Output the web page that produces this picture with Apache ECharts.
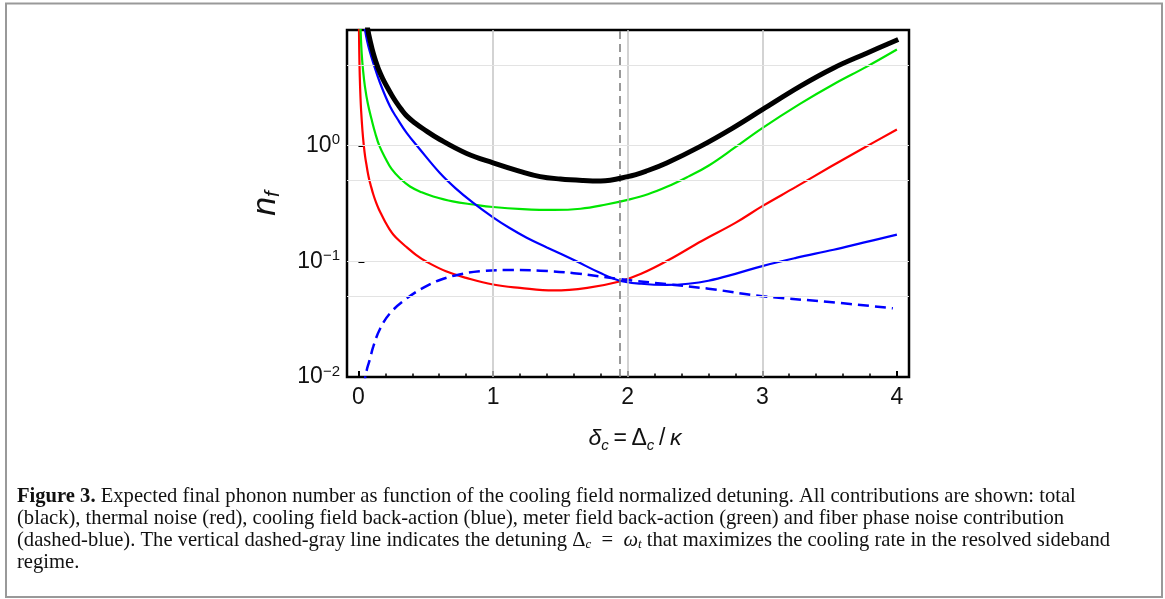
<!DOCTYPE html>
<html lang="en">
<head>
<meta charset="UTF-8">
<title>Figure 3</title>
<script src="https://cdn.jsdelivr.net/npm/echarts@6.0.0/dist/echarts.min.js"></script>
<style>
  html, body { margin: 0; padding: 0; background: #fff; }
  #chart { width: 1165px; height: 599px; }
</style>
</head>
<body>
<div id="chart"></div>
<script>
// values (x = detuning, y = n_f, log scale)
var redX   = [0.004, 0.006, 0.01, 0.015, 0.02, 0.03, 0.04, 0.05, 0.06, 0.07, 0.08, 0.09, 0.11, 0.13, 0.15, 0.17, 0.2, 0.23, 0.26, 0.3, 0.36, 0.43, 0.5, 0.65, 0.8, 1.0, 1.2, 1.45, 1.7, 1.94, 2.1, 2.3, 2.55, 2.8, 3.0, 3.25, 3.5, 3.75, 4.0];
var redY   = [10.5, 6.6, 3.95, 2.65, 2.0, 1.34, 1.0, 0.8, 0.68, 0.58, 0.51, 0.46, 0.38, 0.325, 0.285, 0.255, 0.218, 0.19, 0.17, 0.152, 0.132, 0.113, 0.1, 0.082, 0.072, 0.063, 0.059, 0.056, 0.059, 0.067, 0.078, 0.102, 0.15, 0.215, 0.30, 0.44, 0.65, 0.95, 1.38];

var greenX = [0.012, 0.016, 0.024, 0.035, 0.048, 0.07, 0.098, 0.125, 0.155, 0.2, 0.246, 0.31, 0.383, 0.47, 0.556, 0.7, 0.853, 1.0, 1.22, 1.45, 1.65, 1.84, 2.0, 2.15, 2.3, 2.45, 2.6, 2.8, 3.0, 3.28, 3.53, 3.78, 4.0];
var greenY = [13, 10, 6.3, 4.4, 3.26, 2.3, 1.68, 1.28, 1.0, 0.78, 0.63, 0.52, 0.444, 0.395, 0.364, 0.33, 0.31, 0.295, 0.283, 0.278, 0.285, 0.31, 0.34, 0.38, 0.445, 0.54, 0.67, 0.97, 1.42, 2.3, 3.4, 4.85, 6.78];

var blueX  = [0.045, 0.049, 0.065, 0.08, 0.11, 0.16, 0.234, 0.29, 0.358, 0.45, 0.605, 0.72, 0.853, 1.0, 1.12, 1.25, 1.4, 1.62, 1.79, 1.94, 2.1, 2.29, 2.45, 2.6, 2.8, 3.0, 3.25, 3.53, 3.75, 4.0];
var blueY  = [11, 10, 8.0, 6.8, 5.2, 3.5, 2.19, 1.7, 1.29, 0.95, 0.58, 0.43, 0.32, 0.24, 0.195, 0.16, 0.132, 0.1, 0.08, 0.068, 0.064, 0.0625, 0.064, 0.068, 0.078, 0.091, 0.107, 0.126, 0.145, 0.17];

var dashX  = [0.03, 0.048, 0.065, 0.085, 0.11, 0.16, 0.234, 0.358, 0.48, 0.605, 0.75, 0.9, 1.1, 1.35, 1.6, 1.94, 2.29, 2.6, 3.0, 3.5, 3.97];
var dashY  = [0.0058, 0.0095, 0.0119, 0.0142, 0.0183, 0.026, 0.0355, 0.0477, 0.059, 0.069, 0.077, 0.082, 0.0841, 0.083, 0.079, 0.0703, 0.0635, 0.058, 0.05, 0.0445, 0.0393];

var blackX = [0.06, 0.07, 0.09, 0.11, 0.13, 0.15, 0.18, 0.21, 0.25, 0.28, 0.32, 0.36, 0.42, 0.48, 0.605, 0.8, 1.0, 1.2, 1.35, 1.5, 1.67, 1.8, 2.0, 2.15, 2.29, 2.54, 2.78, 3.0, 3.28, 3.53, 3.78, 4.01];
var blackY = [12.5, 10, 7.8, 6.3, 5.3, 4.55, 3.8, 3.26, 2.7, 2.38, 2.05, 1.8, 1.57, 1.4, 1.13, 0.86, 0.71, 0.6, 0.54, 0.515, 0.50, 0.495, 0.54, 0.61, 0.708, 0.986, 1.42, 2.05, 3.26, 4.70, 6.33, 8.29];

var xTicks = [0, 1, 2, 3, 4];
var xMinorTicks = [0.2, 0.4, 0.6, 0.8, 1.2, 1.4, 1.6, 1.8, 2.2, 2.4, 2.6, 2.8, 3.2, 3.4, 3.6, 3.8];
var gridX = [1, 2, 3];
var gridY = [5, 1, 0.5, 0.1, 0.05];
var detuning = 1.94;   // Δc = ωt

var captionLines = [
  '{b|Figure 3.} Expected final phonon number as function of the cooling field normalized detuning. All contributions are shown: total',
  '(black), thermal noise (red), cooling field back-action (blue), meter field back-action (green) and fiber phase noise contribution',
  '(dashed-blue). The vertical dashed-gray line indicates the detuning \u0394{sub|c}\u2002=\u2002{i|\u03c9}{sub|t} that maximizes the cooling rate in the resolved sideband',
  'regime.'
];

function pairs(xs, ys) {
  return xs.map(function (x, i) { return [x, ys[i]]; });
}

var sans = '"Liberation Sans", Arial, sans-serif';
var serif = '"Liberation Serif", "Times New Roman", serif';

var chart = echarts.init(document.getElementById('chart'), null, { renderer: 'canvas' });

function curve(name, xs, ys, color, width, dash, z) {
  return {
    name: name, type: 'line', data: pairs(xs, ys), showSymbol: false,
    smooth: 0.4, clip: true, z: z,
    lineStyle: { color: color, width: width, type: dash || 'solid' }
  };
}

var captionFont = 20.6;
var captionTop = 497;
var captionStep = 21.7;

var option = {
  animation: false,
  grid: {
    left: 347, right: 256, top: 30, bottom: 222,
    show: true, borderColor: '#000', borderWidth: 2.5, backgroundColor: 'transparent'
  },
  xAxis: [{
    type: 'value', min: -0.085, max: 4.09,
    axisLine: { show: false },
    splitLine: { show: false },
    axisTick: { show: true, inside: true, length: 6, customValues: xTicks, lineStyle: { color: '#000', width: 2 } },
    axisLabel: { customValues: xTicks, fontSize: 23, fontFamily: sans, color: '#111', margin: 9 },
    name: '{i|\u03b4}{s|c}{n|\u2009=\u2009\u0394}{s|c}{n|\u2009/\u2009}{i|\u03ba}',
    nameLocation: 'middle', nameGap: 48,
    nameTextStyle: {
      padding: [0, 0, 0, 14],
      rich: {
        i: { fontSize: 23, fontStyle: 'italic', fontFamily: sans, color: '#111', lineHeight: 28 },
        n: { fontSize: 23, fontFamily: sans, color: '#111', lineHeight: 28 },
        s: { fontSize: 15, fontStyle: 'italic', fontFamily: sans, color: '#111', verticalAlign: 'bottom', lineHeight: 15 }
      }
    }
  }, {
    type: 'value', min: -0.085, max: 4.09, position: 'bottom',
    axisLine: { show: false },
    splitLine: { show: false },
    axisTick: { show: true, inside: true, length: 3.5, customValues: xMinorTicks, lineStyle: { color: '#000', width: 1.5 } },
    axisLabel: { show: false }
  }],
  yAxis: {
    type: 'log', logBase: 10, min: 0.01, max: 10,
    axisLine: { show: false },
    splitLine: { show: false },
    minorTick: { show: false },
    axisTick: { show: true, inside: true, length: 6, lineStyle: { color: '#000', width: 2 } },
    axisLabel: {
      margin: 7,
      formatter: function (v) {
        var e = Math.round(Math.log10(v));
        if (e >= 1) return '';
        return '{b|10}{s|' + (e < 0 ? '\u2212' + (-e) : e) + '}';
      },
      rich: {
        b: { fontSize: 23, fontFamily: sans, color: '#111', lineHeight: 26 },
        s: { fontSize: 15, fontFamily: sans, color: '#111', verticalAlign: 'top', lineHeight: 15 }
      }
    },
    name: '{n|n}{f|f}',
    nameLocation: 'middle', nameRotate: 90, nameGap: 63,
    nameTextStyle: {
      rich: {
        n: { fontSize: 34, fontStyle: 'italic', fontFamily: sans, color: '#111', lineHeight: 36 },
        f: { fontSize: 21, fontStyle: 'italic', fontFamily: sans, color: '#111', verticalAlign: 'bottom', lineHeight: 20 }
      }
    }
  },
  graphic: [{
    type: 'rect', silent: true,
    shape: { x: 6, y: 3.5, width: 1156, height: 593.5 },
    style: { fill: 'none', stroke: '#999', lineWidth: 2 }
  }].concat(captionLines.map(function (t, k) {
    return {
      type: 'text', silent: true, x: 17, y: captionTop + k * captionStep,
      style: {
        text: t, align: 'left', verticalAlign: 'middle',
        fontSize: captionFont, fontFamily: serif, fill: '#111',
        rich: {
          b: { fontSize: captionFont, fontFamily: serif, fontWeight: 'bold', fill: '#111' },
          i: { fontSize: captionFont, fontFamily: serif, fontStyle: 'italic', fill: '#111' },
          sub: { fontSize: 13, fontFamily: serif, fontStyle: 'italic', fill: '#111', verticalAlign: 'bottom', lineHeight: 13 }
        }
      }
    };
  })),
  series: [
    {
      type: 'line', data: [], z: 1, silent: true,
      markLine: {
        silent: true, symbol: 'none', label: { show: false },
        data: gridX.map(function (v) {
          return { xAxis: v, lineStyle: { color: '#c4c4c4', width: 1.5, type: 'solid' } };
        }).concat(gridY.map(function (v) {
          return { yAxis: v, lineStyle: { color: '#e3e3e3', width: 1.2, type: 'solid' } };
        })).concat([
          { xAxis: detuning, lineStyle: { color: '#808080', width: 1.6, type: [8, 5] } }
        ])
      }
    },
    curve('thermal', redX, redY, '#ff0000', 2.2, null, 3),
    curve('meter', greenX, greenY, '#00e600', 2.2, null, 3),
    curve('cooling', blueX, blueY, '#0000ff', 2.2, null, 4),
    curve('phase', dashX, dashY, '#0000ff', 2.5, [11, 6], 4),
    curve('total', blackX, blackY, '#000000', 5, null, 5)
  ]
};

chart.setOption(option);
</script>
</body>
</html>
